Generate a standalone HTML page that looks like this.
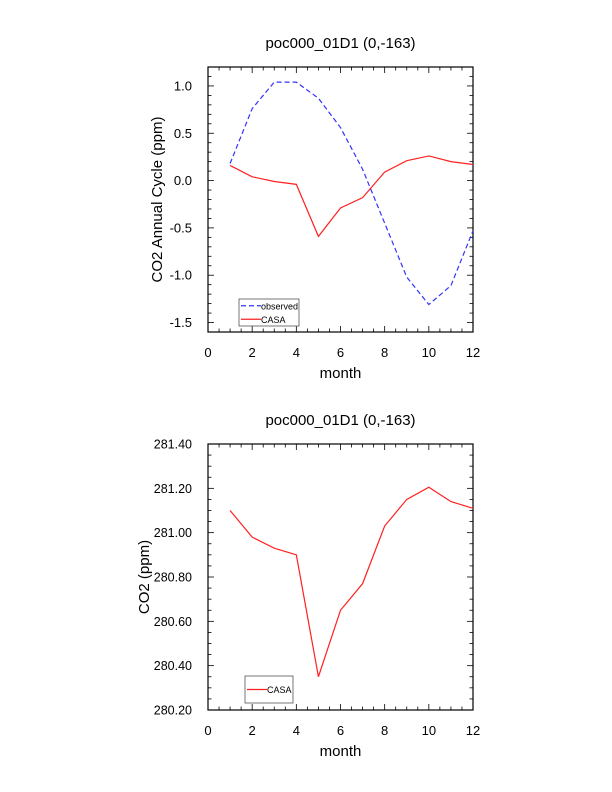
<!DOCTYPE html>
<html><head><meta charset="utf-8"><style>
body{margin:0;background:#fff}
svg{display:block;font-family:"Liberation Sans",Arial,sans-serif}
</style></head><body>
<svg id="c" width="612" height="792"></svg>
<script>
const months=[1,2,3,4,5,6,7,8,9,10,11,12];
const observed=[0.18,0.76,1.04,1.04,0.87,0.56,0.12,-0.45,-1.02,-1.31,-1.11,-0.53];
const casaAnom=[0.16,0.04,-0.01,-0.04,-0.59,-0.29,-0.18,0.09,0.21,0.26,0.20,0.17];
const casaCO2=[281.10,280.98,280.93,280.90,280.35,280.65,280.77,281.03,281.15,281.205,281.14,281.11];
const xTicks=[0,2,4,6,8,10,12];
const yTicksTop=[-1.5,-1.0,-0.5,0.0,0.5,1.0];
const yTicksBot=[280.20,280.40,280.60,280.80,281.00,281.20,281.40];
const NS='http://www.w3.org/2000/svg';
const svg=document.getElementById('c');
function el(t,a,p){const e=document.createElementNS(NS,t);for(const k in a)e.setAttribute(k,a[k]);(p||svg).appendChild(e);return e;}
function panel(o){
 const g=el('g',{});
 
 
 const L=208,R=473,T=o.top,B=o.bot;
 const xs=v=>L+(v-0)/12*(R-L);
 const ys=v=>B-(v-o.ymin)/(o.ymax-o.ymin)*(B-T);
 el('rect',{x:L,y:T,width:R-L,height:B-T,fill:'none',stroke:'#000','stroke-width':1.2},g);
 for(let v=0;v<=12;v+=0.5){const maj=v%2===0;const len=maj?6:3.5;const x=xs(v);
  el('line',{x1:x,y1:B,x2:x,y2:B-len,stroke:'#000','stroke-width':0.8},g);
  el('line',{x1:x,y1:T,x2:x,y2:T+len,stroke:'#000','stroke-width':0.8},g);}
 xTicks.forEach(v=>{const t=el('text',{x:xs(v),y:B+25,'font-size':13,'text-anchor':'middle'},g);t.textContent=v;
  });
 const n=Math.round((o.ymax-o.ymin)/o.minor);
 for(let i=0;i<=n;i++){const v=o.ymin+i*o.minor;const y=ys(v);
  const maj=o.yt.some(t=>Math.abs(t-v)<1e-6);const len=maj?6:3.5;
  el('line',{x1:L,y1:y,x2:L+len,y2:y,stroke:'#000','stroke-width':0.8},g);
  el('line',{x1:R,y1:y,x2:R-len,y2:y,stroke:'#000','stroke-width':0.8},g);}
 o.yt.forEach(v=>{const t=el('text',{x:L-16,y:ys(v)+4.5,'font-size':o.ytfs,'text-anchor':'end'},g);t.textContent=v.toFixed(o.dec);
  });
 const ti=el('text',{x:(L+R)/2,y:T-19,'font-size':15,'text-anchor':'middle'},g);ti.textContent='poc000_01D1 (0,-163)';
 
 const xl=el('text',{x:(L+R)/2,y:B+46,'font-size':15,'text-anchor':'middle'},g);xl.textContent='month';
 
 const cy=(T+B)/2;const lx=o.ylx;
 const yl=el('text',{x:lx,y:cy,'font-size':15,'text-anchor':'middle',transform:`rotate(-90 ${lx} ${cy})`},g);yl.textContent=o.ylabel;
 
 o.series.forEach(s=>{const p=el('polyline',{points:months.map((m,i)=>xs(m)+','+ys(s.data[i])).join(' '),fill:'none',stroke:s.color,'stroke-width':1.2,'stroke-dasharray':s.dash||'none'},g);
  });
 const lg=o.legend;const lgg=el('g',{},g);
 
 el('rect',{x:lg.x,y:lg.y,width:lg.w,height:lg.h,fill:'#fff',stroke:'#555','stroke-width':0.8},lgg);
 const rh=lg.h/o.series.length;
 o.series.forEach((s,i)=>{const y=lg.y+rh*(i+0.5);
  el('line',{x1:lg.x+2,y1:y,x2:lg.x+22,y2:y,stroke:s.color,'stroke-width':1.2,'stroke-dasharray':s.dash||'none'},lgg);
  const t=el('text',{x:lg.x+22,y:y+3.5,'font-size':9},lgg);t.textContent=s.label;
  });
}
panel({name:'annual-cycle-chart',top:67,bot:332,ymin:-1.6,ymax:1.2,minor:0.1,yt:yTicksTop,dec:1,ytfs:13,ylx:162,ylabel:'CO2 Annual Cycle (ppm)',
 series:[{name:'observed-line',label:'observed',data:observed,color:'#3333ff',dash:'5,3'},{name:'casa-anomaly-line',label:'CASA',data:casaAnom,color:'#ff2020'}],
 legend:{x:239,y:299,w:60,h:27}});
panel({name:'co2-chart',top:444,bot:710,ymin:280.2,ymax:281.4,minor:0.05,yt:yTicksBot,dec:2,ytfs:12.5,ylx:149,ylabel:'CO2 (ppm)',
 series:[{name:'casa-co2-line',label:'CASA',data:casaCO2,color:'#ff2020'}],
 legend:{x:245,y:676,w:48,h:27}});
</script>
</body></html>
